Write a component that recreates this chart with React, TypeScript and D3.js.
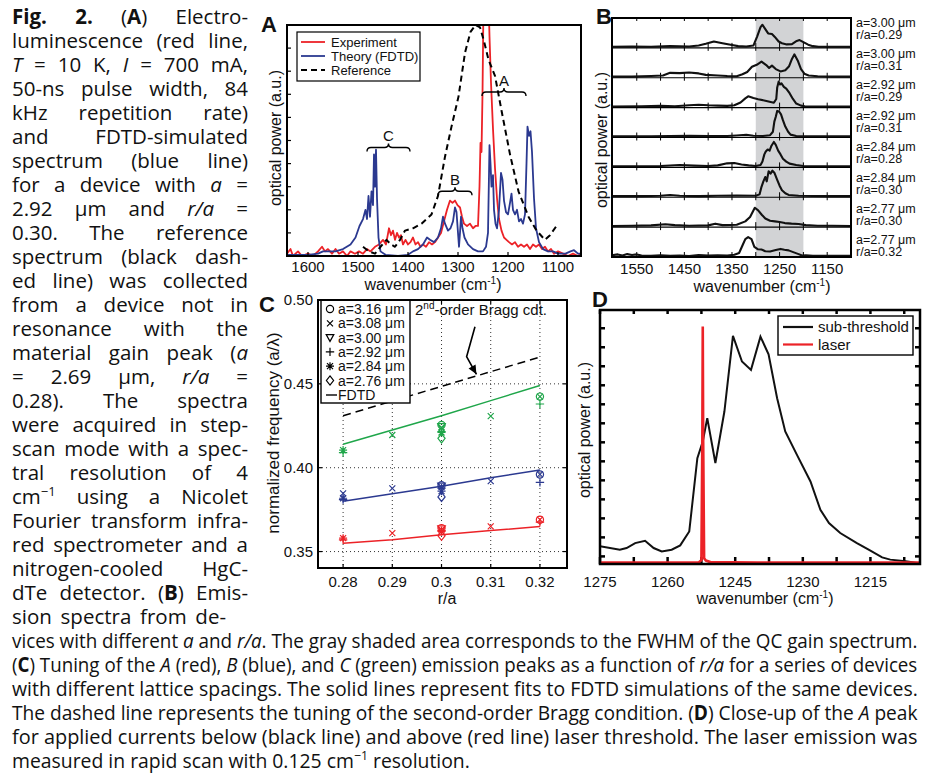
import React, { useEffect, useRef } from "react";
import * as d3 from "d3";

type Pt = [number, number];

const FONT = "'Liberation Sans', Arial, Helvetica, sans-serif";
const CAP_FONT = "'Open Sans', Lato, sans-serif";
const CAP_SIZE = 20.5;
const RED = "#ec2227";
const BLUE = "#2b3990";
const GREEN = "#1fa64a";

// ---------- A: electroluminescence (red), FDTD (blue), reference (dashed) ----------
const expA: Pt[] = [
  [1642, 0.01], [1635, 0.03], [1630, 0.0], [1620, 0.02], [1612, 0.0], [1600, 0.01], [1590, 0.0], [1580, 0.02],
  [1572, 0.04], [1566, 0.02], [1560, 0.03], [1552, 0.01], [1545, 0.03], [1538, 0.01], [1530, 0.02], [1522, 0.0],
  [1515, 0.02], [1506, 0.01], [1498, 0.02], [1490, 0.01], [1482, 0.03], [1475, 0.02], [1466, 0.04], [1458, 0.05],
  [1450, 0.07], [1444, 0.05], [1438, 0.12], [1434, 0.09], [1430, 0.11], [1426, 0.07], [1422, 0.1], [1418, 0.08],
  [1414, 0.09], [1410, 0.05], [1405, 0.07], [1400, 0.05], [1395, 0.06], [1390, 0.08], [1385, 0.05], [1380, 0.06],
  [1375, 0.04], [1370, 0.05], [1364, 0.04], [1358, 0.06], [1352, 0.05], [1346, 0.06], [1340, 0.08], [1334, 0.1],
  [1328, 0.15], [1322, 0.2], [1316, 0.24], [1311, 0.23], [1306, 0.24], [1301, 0.22], [1296, 0.21], [1292, 0.17],
  [1288, 0.14], [1282, 0.13], [1276, 0.14], [1270, 0.12], [1265, 0.13], [1260, 0.13], [1257, 0.3], [1255, 0.49],
  [1253, 0.45], [1251, 0.7], [1249, 1.1], [1246, 1.25], [1243, 1.3], [1240, 1.2], [1237, 0.95], [1234, 0.75],
  [1230, 0.55], [1226, 0.38], [1222, 0.25], [1218, 0.16], [1213, 0.11], [1208, 0.08], [1203, 0.07], [1198, 0.06],
  [1192, 0.05], [1186, 0.06], [1180, 0.04], [1174, 0.05], [1168, 0.04], [1162, 0.05], [1156, 0.03], [1150, 0.05],
  [1144, 0.04], [1138, 0.05], [1132, 0.03], [1126, 0.04], [1120, 0.02], [1114, 0.03], [1108, 0.01], [1100, 0.02],
  [1090, 0.01], [1080, 0.0], [1070, 0.01], [1060, 0.0], [1054, 0.01],
];
const fdtdA: Pt[] = [
  [1642, 0.005], [1600, 0.005], [1580, 0.01], [1570, 0.02], [1560, 0.02], [1545, 0.02], [1530, 0.03], [1515, 0.05],
  [1505, 0.08], [1497, 0.13], [1490, 0.16], [1485, 0.2], [1482, 0.16], [1479, 0.26], [1476, 0.17], [1473, 0.28],
  [1470, 0.22], [1468, 0.44], [1466, 0.3], [1464, 0.46], [1462, 0.25], [1459, 0.08], [1455, 0.02], [1445, 0.005],
  [1420, 0.0], [1400, 0.005], [1390, 0.02], [1380, 0.03], [1370, 0.05], [1362, 0.08], [1356, 0.07], [1348, 0.06],
  [1340, 0.08], [1334, 0.12], [1330, 0.17], [1326, 0.14], [1320, 0.11], [1315, 0.12], [1310, 0.15], [1306, 0.21],
  [1303, 0.19], [1300, 0.1], [1298, 0.04], [1296, 0.1], [1294, 0.17], [1291, 0.12], [1287, 0.08], [1280, 0.05],
  [1270, 0.03], [1260, 0.02], [1250, 0.02], [1244, 0.04], [1240, 0.1], [1237, 0.48], [1235, 0.4], [1233, 0.3],
  [1230, 0.35], [1228, 0.2], [1225, 0.14], [1222, 0.12], [1218, 0.2], [1214, 0.36], [1211, 0.33], [1208, 0.24],
  [1204, 0.19], [1200, 0.18], [1196, 0.23], [1193, 0.27], [1190, 0.2], [1186, 0.18], [1182, 0.2], [1178, 0.15],
  [1174, 0.16], [1170, 0.14], [1166, 0.18], [1163, 0.4], [1161, 0.56], [1158, 0.52], [1155, 0.54], [1152, 0.45],
  [1148, 0.25], [1144, 0.12], [1138, 0.06], [1130, 0.03], [1120, 0.02], [1110, 0.02], [1100, 0.01], [1085, 0.01],
  [1075, 0.02], [1068, 0.025], [1060, 0.01], [1054, 0.01],
];
const refA: Pt[] = [
  [1490, 0.04], [1478, 0.02], [1466, 0.01], [1455, 0.04], [1443, 0.07], [1434, 0.05], [1426, 0.04], [1416, 0.07],
  [1406, 0.11], [1390, 0.12], [1373, 0.14], [1353, 0.18], [1340, 0.26], [1326, 0.43], [1313, 0.56], [1299, 0.69],
  [1286, 0.88], [1275, 0.97], [1265, 1.0], [1256, 0.99], [1248, 0.93], [1239, 0.85], [1226, 0.78], [1213, 0.63],
  [1196, 0.44], [1179, 0.28], [1159, 0.17], [1143, 0.11], [1126, 0.07], [1116, 0.09], [1103, 0.13],
];
const legendA = ["Experiment", "Theory (FDTD)", "Reference"];
const bracePeaks = ["C", "B", "A"];
const braceFrom = [1482, 1340, 1252];
const braceTo = [1396, 1272, 1164];
const braceLevel = [0.47, 0.28, 0.71];
const ticksA = [1600, 1500, 1400, 1300, 1200, 1100];

// ---------- B: emission spectra of eight devices ----------
const rowsB: Pt[][] = [
  [[1602, 0.04], [1560, 0.05], [1520, 0.04], [1480, 0.06], [1440, 0.05], [1420, 0.08], [1405, 0.14], [1388, 0.22],
   [1370, 0.16], [1350, 0.1], [1337, 0.06], [1320, 0.05], [1305, 0.08], [1297, 0.4], [1290, 0.72], [1286, 0.8],
   [1280, 0.65], [1274, 0.5], [1266, 0.48], [1260, 0.38], [1252, 0.22], [1245, 0.16], [1235, 0.12], [1224, 0.13],
   [1214, 0.24], [1208, 0.27], [1200, 0.2], [1190, 0.11], [1180, 0.06], [1168, 0.04], [1140, 0.04], [1100, 0.04]],
  [[1602, 0.04], [1560, 0.04], [1520, 0.06], [1495, 0.08], [1480, 0.17], [1460, 0.16], [1440, 0.18], [1420, 0.15],
   [1405, 0.1], [1380, 0.08], [1360, 0.06], [1340, 0.05], [1328, 0.12], [1318, 0.2], [1308, 0.38], [1298, 0.45],
   [1288, 0.56], [1283, 0.5], [1278, 0.44], [1272, 0.34], [1266, 0.42], [1258, 0.3], [1248, 0.22], [1238, 0.26],
   [1230, 0.4], [1224, 0.65], [1219, 0.81], [1212, 0.6], [1205, 0.3], [1198, 0.14], [1189, 0.08], [1170, 0.05],
   [1140, 0.04], [1100, 0.04]],
  [[1602, 0.04], [1540, 0.05], [1500, 0.06], [1470, 0.05], [1440, 0.08], [1420, 0.1], [1400, 0.08], [1380, 0.07],
   [1360, 0.06], [1345, 0.08], [1332, 0.18], [1322, 0.32], [1316, 0.39], [1305, 0.33], [1295, 0.29], [1280, 0.24],
   [1262, 0.17], [1257, 0.3], [1255, 0.7], [1252, 0.9], [1249, 0.8], [1246, 0.84], [1241, 0.72], [1236, 0.66],
   [1229, 0.5], [1222, 0.3], [1215, 0.14], [1205, 0.07], [1197, 0.05], [1150, 0.04], [1100, 0.04]],
  [[1602, 0.04], [1520, 0.04], [1480, 0.05], [1440, 0.06], [1400, 0.05], [1360, 0.05], [1340, 0.07], [1320, 0.09],
   [1305, 0.06], [1285, 0.05], [1270, 0.08], [1264, 0.2], [1261, 0.55], [1258, 0.72], [1255, 0.92], [1251, 0.9],
   [1247, 0.8], [1243, 0.6], [1238, 0.38], [1232, 0.2], [1227, 0.1], [1215, 0.05], [1180, 0.04], [1100, 0.04]],
  [[1602, 0.04], [1540, 0.04], [1500, 0.05], [1460, 0.08], [1430, 0.06], [1400, 0.05], [1380, 0.07], [1360, 0.14],
   [1345, 0.15], [1330, 0.1], [1315, 0.07], [1300, 0.05], [1290, 0.08], [1286, 0.2], [1282, 0.45], [1279, 0.55],
   [1275, 0.62], [1271, 0.58], [1267, 0.75], [1262, 0.88], [1258, 0.78], [1253, 0.58], [1248, 0.45], [1243, 0.3],
   [1236, 0.2], [1229, 0.13], [1215, 0.08], [1200, 0.05], [1150, 0.04], [1100, 0.04]],
  [[1602, 0.04], [1540, 0.04], [1500, 0.05], [1480, 0.08], [1460, 0.05], [1420, 0.04], [1380, 0.05], [1340, 0.06],
   [1300, 0.05], [1292, 0.1], [1288, 0.36], [1284, 0.55], [1280, 0.7], [1277, 0.55], [1273, 0.9], [1269, 0.82],
   [1265, 0.92], [1261, 0.85], [1255, 0.6], [1250, 0.4], [1245, 0.24], [1238, 0.14], [1231, 0.08], [1210, 0.05],
   [1150, 0.04], [1100, 0.04]],
  [[1602, 0.04], [1560, 0.05], [1520, 0.06], [1490, 0.1], [1470, 0.07], [1440, 0.05], [1400, 0.06], [1385, 0.12],
   [1370, 0.07], [1340, 0.08], [1322, 0.2], [1312, 0.35], [1302, 0.67], [1295, 0.58], [1287, 0.42], [1280, 0.3],
   [1270, 0.22], [1260, 0.2], [1250, 0.18], [1239, 0.14], [1225, 0.12], [1210, 0.11], [1195, 0.07], [1170, 0.05],
   [1140, 0.05], [1100, 0.04]],
  [[1602, 0.06], [1590, 0.09], [1580, 0.05], [1570, 0.1], [1560, 0.07], [1550, 0.09], [1540, 0.05], [1520, 0.04],
   [1500, 0.06], [1480, 0.04], [1460, 0.05], [1440, 0.03], [1420, 0.07], [1400, 0.05], [1380, 0.06], [1360, 0.05],
   [1345, 0.08], [1335, 0.14], [1328, 0.4], [1322, 0.62], [1316, 0.69], [1309, 0.62], [1303, 0.35], [1296, 0.27],
   [1288, 0.26], [1280, 0.2], [1270, 0.19], [1258, 0.24], [1248, 0.28], [1240, 0.25], [1231, 0.23], [1220, 0.16],
   [1210, 0.1], [1203, 0.05], [1195, 0.06], [1180, 0.04], [1100, 0.04]],
];
const latticeB = ["3.00", "3.00", "2.92", "2.92", "2.84", "2.84", "2.77", "2.77"];
const radiusB = ["0.29", "0.31", "0.29", "0.31", "0.28", "0.30", "0.30", "0.32"];
const gainBand = [1300, 1200];
const ticksB = [1550, 1450, 1350, 1250, 1150];

// ---------- C: tuning of the A, B, C peaks ----------
const rOverA = [0.28, 0.29, 0.3, 0.31, 0.32];
const fdtdPeakA = [0.355, 0.357, 0.36, 0.3625, 0.365];
const fdtdPeakB = [0.38, 0.3845, 0.389, 0.394, 0.3986];
const fdtdPeakC = [0.414, 0.4225, 0.431, 0.44, 0.449];
const braggR = [0.28, 0.32];
const braggF = [0.431, 0.466];
// rows: [r/a, peak A, peak B, peak C]
const markCircle = [[0.3, 0.364, 0.3896, 0.4255], [0.32, 0.369, 0.396, 0.4424]];
const markCross = [[0.28, NaN, 0.3847, NaN], [0.29, 0.361, 0.3877, 0.4195], [0.3, 0.363, 0.3886, 0.424], [0.31, 0.365, 0.392, 0.4308], [0.32, 0.369, 0.396, 0.4424]];
const markTriangle = [[0.3, 0.3635, 0.389, 0.4245]];
const markPlus = [[0.28, 0.357, 0.381, 0.409], [0.3, 0.3625, 0.3878, 0.4215], [0.32, 0.3675, 0.3913, 0.438]];
const markStar = [[0.28, 0.358, 0.3818, 0.4105], [0.3, 0.362, 0.386, 0.421]];
const markDiamond = [[0.3, 0.3594, 0.3826, 0.4175]];
const legendC = ["3.16", "3.08", "3.00", "2.92", "2.84", "2.76"];
const ticksCx = [0.28, 0.29, 0.3, 0.31, 0.32];
const ticksCxLabels = ["0.28", "0.29", "0.3", "0.31", "0.32"];
const ticksCy = [0.35, 0.4, 0.45, 0.5];

// ---------- D: close-up of peak A ----------
const subThreshold: Pt[] = [
  [1275, 0.53], [1270.6, 0.35], [1269.1, 0.44], [1267.2, 0.7], [1265, 0.82], [1263.1, 0.44], [1261.3, 0.26],
  [1259.1, 0.35], [1257.2, 0.58], [1255.2, 1.31], [1253.4, 5.17], [1252.2, 6.04], [1251.2, 7.27], [1249.4, 4.91],
  [1247.4, 7.62], [1245.5, 11.6], [1243.5, 10.25], [1241.5, 9.81], [1239.4, 11.56], [1237.6, 10.63], [1235.7, 8.32],
  [1233.9, 6.57], [1231.3, 5.34], [1228.3, 3.94], [1226.1, 2.45], [1224.2, 1.75], [1221.7, 1.23], [1218, 0.7],
  [1215.4, 0.35], [1212.4, -0.05], [1210.6, -0.17], [1207.2, -0.26], [1204.6, -0.35],
];
const laserD: Pt[] = [
  [1275, -0.33], [1262, -0.33], [1253.2, -0.33], [1252.5, -0.2], [1252.3, 6.0], [1252.2, 12.09], [1252.1, 6.0],
  [1251.9, -0.1], [1251.5, -0.22], [1250.5, -0.3], [1240, -0.33], [1220, -0.33], [1204, -0.33],
];
const ticksD = [1275, 1260, 1245, 1230, 1215];
const legendD = ["sub-threshold", "laser"];

// ---------- caption ----------
const captionColumn = [
  "**Fig. 2.** (**A**) Electro-",
  "luminescence (red line,",
  "*T* = 10 K, *I* = 700 mA,",
  "50-ns pulse width, 84",
  "kHz repetition rate)",
  "and FDTD-simulated",
  "spectrum (blue line)",
  "for a device with *a* =",
  "2.92 μm and *r/a* =",
  "0.30. The reference",
  "spectrum (black dash-",
  "ed line) was collected",
  "from a device not in",
  "resonance with the",
  "material gain peak (*a*",
  "= 2.69 μm, *r/a* =",
  "0.28). The spectra",
  "were acquired in step-",
  "scan mode with a spec-",
  "tral resolution of 4",
  "cm^−1^ using a Nicolet",
  "Fourier transform infra-",
  "red spectrometer and a",
  "nitrogen-cooled HgC-",
  "dTe detector. (**B**) Emis-",
  "sion spectra from de-",
];
const captionWide = [
  "vices with different *a* and *r/a*. The gray shaded area corresponds to the FWHM of the QC gain spectrum.",
  "(**C**) Tuning of the *A* (red), *B* (blue), and *C* (green) emission peaks as a function of *r/a* for a series of devices",
  "with different lattice spacings. The solid lines represent fits to FDTD simulations of the same devices.",
  "The dashed line represents the tuning of the second-order Bragg condition. (**D**) Close-up of the *A* peak",
  "for applied currents below (black line) and above (red line) laser threshold. The laser emission was",
  "measured in rapid scan with 0.125 cm^−1^ resolution.",
];

type Part = { t: string; b?: boolean; i?: boolean; sup?: boolean };
function richParts(s: string): Part[] {
  const out: Part[] = [];
  const re = /\*\*(.+?)\*\*|\*(.+?)\*|\^(.+?)\^|([^*^]+)/g;
  let m: RegExpExecArray | null;
  while ((m = re.exec(s))) {
    if (m[1]) out.push({ t: m[1], b: true });
    else if (m[2]) out.push({ t: m[2], i: true });
    else if (m[3]) out.push({ t: m[3], sup: true });
    else out.push({ t: m[4] });
  }
  return out;
}

const RichLine = ({ s, x, y, width, squeeze }: { s: string; x: number; y: number; width: number; squeeze?: boolean }) => {
  const parts = richParts(s);
  return (
    <text x={0} y={0} transform={`translate(${x},${y})`} className={squeeze ? "squeeze" : "justify"}
      data-x={x} data-y={y} data-w={width} fontFamily={CAP_FONT} fontSize={CAP_SIZE} fill="#111">
      {parts.map((p, k) => {
        const prevSup = k > 0 && parts[k - 1].sup;
        return (
          <tspan key={k} fontWeight={p.b ? 700 : undefined} fontStyle={p.i ? "italic" : undefined}
            fontSize={p.sup ? 13 : undefined} dy={p.sup ? -8 : prevSup ? 8 : undefined}>
            {p.t}
          </tspan>
        );
      })}
    </text>
  );
};

const Caption = () => (
  <g>
    {captionColumn.map((s, i) => (
      <RichLine key={i} s={s} x={12} y={24 + 24 * i} width={i < captionColumn.length - 1 ? 236 : 214} />
    ))}
    {captionWide.map((s, i) => (
      <RichLine key={"w" + i} s={s} x={12} y={24 + 24 * (captionColumn.length + i)}
        width={i < captionWide.length - 1 ? 906 : 458} squeeze />
    ))}
  </g>
);

// column lines: spread the words to fill the measure; wide lines: condense the glyphs to fit
function fitCaption(svg: SVGSVGElement) {
  d3.select(svg).selectAll<SVGTextElement, unknown>("text.justify").each(function () {
    const target = Number(this.getAttribute("data-w"));
    this.setAttribute("word-spacing", "0");
    const natural = this.getComputedTextLength();
    const gaps = ((this.textContent || "").match(/ /g) || []).length;
    if (gaps > 0) this.setAttribute("word-spacing", String((target - natural) / gaps));
  });
  d3.select(svg).selectAll<SVGTextElement, unknown>("text.squeeze").each(function () {
    const target = Number(this.getAttribute("data-w"));
    const tx = this.getAttribute("data-x"), ty = this.getAttribute("data-y");
    const natural = this.getComputedTextLength();
    this.setAttribute("transform", `translate(${tx},${ty}) scale(${target / natural},1)`);
  });
}

// ---------- helpers ----------
type Box = { x0: number; x1: number; y0: number; y1: number };
type Sel = d3.Selection<SVGGElement, unknown, null, undefined>;

const frame = (g: Sel, b: Box, w: number) =>
  g.append("rect").attr("x", b.x0).attr("y", b.y0).attr("width", b.x1 - b.x0).attr("height", b.y1 - b.y0)
    .attr("fill", "none").attr("stroke", "#000").attr("stroke-width", w);

const tick = (g: Sel, x1: number, y1: number, x2: number, y2: number, w = 1.2) =>
  g.append("line").attr("x1", x1).attr("y1", y1).attr("x2", x2).attr("y2", y2).attr("stroke", "#000").attr("stroke-width", w);

const txt = (g: Sel, x: number, y: number, s: string, size: number, anchor = "middle") =>
  g.append("text").attr("x", x).attr("y", y).attr("text-anchor", anchor).attr("font-family", FONT)
    .attr("font-size", size).attr("fill", "#111").text(s);

const panelLetter = (g: Sel, x: number, y: number, s: string) =>
  txt(g, x, y, s, 22, "start").attr("font-weight", 700);

const wavenumberLabel = (g: Sel, x: number, y: number) => {
  const t = g.append("text").attr("x", x).attr("y", y).attr("text-anchor", "middle")
    .attr("font-family", FONT).attr("font-size", 16).attr("fill", "#111");
  t.append("tspan").text("wavenumber (cm");
  t.append("tspan").attr("dy", -6).attr("font-size", 10).text("-1");
  t.append("tspan").attr("dy", 6).text(")");
};

const yLabel = (g: Sel, x: number, y: number, s: string, size = 16) =>
  g.append("text").attr("transform", `translate(${x},${y}) rotate(-90)`).attr("text-anchor", "middle")
    .attr("font-family", FONT).attr("font-size", size).attr("fill", "#111").text(s);

// ---------- panel A ----------
function drawA(root: Sel) {
  const b: Box = { x0: 287, x1: 581, y0: 25, y1: 256 };
  const x = d3.scaleLinear().domain([1642, 1054]).range([b.x0, b.x1]);
  const y = d3.scaleLinear().domain([0, 1]).range([b.y1, b.y0]);
  const g = root.append("g");
  g.append("clipPath").attr("id", "clipA").append("rect")
    .attr("x", b.x0).attr("y", b.y0).attr("width", b.x1 - b.x0).attr("height", b.y1 - b.y0);
  const line = d3.line<Pt>().x(d => x(d[0])).y(d => y(d[1]));
  const plot = g.append("g").attr("clip-path", "url(#clipA)");
  const series = [
    { data: expA, color: RED, dash: null as string | null },
    { data: fdtdA, color: BLUE, dash: null },
    { data: refA, color: "#000", dash: "6,4" },
  ];
  series.forEach(s =>
    plot.append("path").datum(s.data).attr("d", line).attr("fill", "none").attr("stroke", s.color)
      .attr("stroke-width", s.dash ? 2 : 1.8).attr("stroke-dasharray", s.dash).attr("stroke-linejoin", "round"));

  y.ticks(10).forEach(t => tick(g, b.x0, y(t), b.x0 + 4, y(t)));
  ticksA.forEach(t => {
    tick(g, x(t), b.y1, x(t), b.y1 - 4);
    txt(g, x(t), 272, String(t), 15);
  });
  frame(g, b, 2);

  // peak braces
  bracePeaks.forEach((name, i) => {
    const x1 = x(braceFrom[i]), x2 = x(braceTo[i]), yb = y(braceLevel[i]), xm = (x1 + x2) / 2, h = 4;
    g.append("path").attr("fill", "none").attr("stroke", "#000").attr("stroke-width", 1.4)
      .attr("d", `M${x1},${yb + h} Q${x1},${yb} ${x1 + h},${yb} L${xm - h},${yb} Q${xm},${yb} ${xm},${yb - h} ` +
        `Q${xm},${yb} ${xm + h},${yb} L${x2 - h},${yb} Q${x2},${yb} ${x2},${yb + h}`);
    txt(g, xm, yb - 6, name, 15);
  });

  // legend
  const lg = g.append("g");
  lg.append("rect").attr("x", 297).attr("y", 32).attr("width", 123).attr("height", 49)
    .attr("fill", "#fff").attr("stroke", "#000").attr("stroke-width", 1.2);
  legendA.forEach((name, i) => {
    const yy = 42 + i * 14;
    lg.append("line").attr("x1", 301).attr("x2", 325).attr("y1", yy).attr("y2", yy)
      .attr("stroke", series[i].color).attr("stroke-width", 1.8).attr("stroke-dasharray", series[i].dash);
    txt(lg, 331, yy + 5, name, 13, "start");
  });

  wavenumberLabel(g, 433, 290);
  yLabel(g, 281, 138, "optical power (a.u.)");
  panelLetter(g, 261, 32, "A");
}

// ---------- panel B ----------
function drawB(root: Sel) {
  const b: Box = { x0: 612, x1: 851, y0: 18, y1: 257 };
  const x = d3.scaleLinear().domain([1602, 1100]).range([b.x0, b.x1]);
  const rowH = (b.y1 - b.y0) / rowsB.length;
  const g = root.append("g");
  g.append("rect").attr("x", x(gainBand[0])).attr("y", b.y0).attr("width", x(gainBand[1]) - x(gainBand[0]))
    .attr("height", b.y1 - b.y0).attr("fill", "#d2d3d5");

  rowsB.forEach((row, i) => {
    const top = b.y0 + i * rowH, bottom = top + rowH;
    const y = d3.scaleLinear().domain([0, 1]).range([bottom, top + 1]);
    d3.range(1550, 1100, -50).forEach(t => {
      tick(g, x(t), bottom, x(t), bottom - 5, 1);
      tick(g, x(t), top, x(t), top + 3, 1);
    });
    if (i > 0) tick(g, b.x0, top, b.x1, top, 1.1);
    const line = d3.line<Pt>().x(d => x(d[0])).y(d => y(d[1]));
    g.append("path").datum(row).attr("d", line).attr("fill", "none").attr("stroke", "#111")
      .attr("stroke-width", 2.1).attr("stroke-linejoin", "round");
    const ly = 22 + i * 31;
    txt(g, 856, ly + 4.5, `a=${latticeB[i]} μm`, 12.5, "start");
    txt(g, 856, ly + 16.5, `r/a=${radiusB[i]}`, 12.5, "start");
  });
  frame(g, b, 2);
  ticksB.forEach(t => txt(g, x(t), 274, String(t), 15));
  wavenumberLabel(g, 762, 292);
  yLabel(g, 607, 140, "optical power (a.u.)");
  panelLetter(g, 596, 24, "B");
}

// ---------- panel C ----------
type MarkFn = (g: Sel, cx: number, cy: number, color: string) => void;
const pathMark = (d: string): MarkFn => (g, cx, cy, color) =>
  g.append("path").attr("transform", `translate(${cx},${cy})`).attr("d", d).attr("fill", "none")
    .attr("stroke", color).attr("stroke-width", 1.2);
const markShapes: MarkFn[] = [
  (g, cx, cy, color) => g.append("circle").attr("cx", cx).attr("cy", cy).attr("r", 3.6).attr("fill", "none")
    .attr("stroke", color).attr("stroke-width", 1.2),
  pathMark("M-3,-3L3,3M-3,3L3,-3"),
  pathMark("M-3.8,-3L3.8,-3L0,3.8Z"),
  pathMark("M-4.2,0H4.2M0,-4.2V4.2"),
  pathMark("M-4,0H4M0,-4V4M-3,-3L3,3M-3,3L3,-3"),
  pathMark("M0,-4.6L3.6,0L0,4.6L-3.6,0Z"),
];

function drawC(root: Sel) {
  const b: Box = { x0: 318, x1: 567, y0: 300, y1: 568 };
  const x = d3.scaleLinear().domain([0.2749, 0.3255]).range([b.x0, b.x1]);
  const y = d3.scaleLinear().domain([0.3402, 0.5]).range([b.y1, b.y0]);
  const g = root.append("g");

  ticksCx.forEach((t, i) => {
    g.append("line").attr("x1", x(t)).attr("x2", x(t)).attr("y1", b.y0).attr("y2", b.y1)
      .attr("stroke", "#333").attr("stroke-dasharray", "1,3");
    tick(g, x(t), b.y1, x(t), b.y1 - 4); tick(g, x(t), b.y0, x(t), b.y0 + 4);
    txt(g, x(t), 587, ticksCxLabels[i], 15);
  });
  ticksCy.forEach(t => {
    g.append("line").attr("x1", b.x0).attr("x2", b.x1).attr("y1", y(t)).attr("y2", y(t))
      .attr("stroke", "#333").attr("stroke-dasharray", "1,3");
    tick(g, b.x0, y(t), b.x0 + 4, y(t)); tick(g, b.x1, y(t), b.x1 - 4, y(t));
    txt(g, 313, y(t) + 5, t.toFixed(2), 15, "end");
  });

  const lineOf = (vals: number[]) =>
    d3.line<number>().x((_, i) => x(rOverA[i])).y(v => y(v))(vals) as string;
  [[fdtdPeakA, RED], [fdtdPeakB, BLUE], [fdtdPeakC, GREEN]].forEach(([vals, color]) =>
    g.append("path").attr("d", lineOf(vals as number[])).attr("fill", "none").attr("stroke", color as string)
      .attr("stroke-width", 1.5));
  g.append("path").attr("d", d3.line<number>().x((_, i) => x(braggR[i])).y(v => y(v))(braggF) as string)
    .attr("fill", "none").attr("stroke", "#000").attr("stroke-width", 1.5).attr("stroke-dasharray", "8,5");

  const marks = [markCircle, markCross, markTriangle, markPlus, markStar, markDiamond];
  const peakColors = [RED, BLUE, GREEN];
  marks.forEach((rows, k) => rows.forEach(r => peakColors.forEach((c, p) => {
    if (!isNaN(r[p + 1])) markShapes[k](g, x(r[0]), y(r[p + 1]), c);
  })));

  // Bragg annotation arrow
  const tip: Pt = [x(0.3071), y(0.4557)];
  const pts: Pt[] = [[x(0.3068), y(0.4841)], [x(0.3051), y(0.4662)], tip];
  g.append("path").attr("d", d3.line<Pt>()(pts) as string).attr("fill", "none").attr("stroke", "#000").attr("stroke-width", 1.6);
  const ang = Math.atan2(tip[1] - pts[1][1], tip[0] - pts[1][0]);
  const hl = 9, hw = 4;
  const bx = tip[0] - hl * Math.cos(ang), by = tip[1] - hl * Math.sin(ang);
  g.append("path").attr("fill", "#000")
    .attr("d", `M${tip[0]},${tip[1]}L${bx - hw * Math.sin(ang)},${by + hw * Math.cos(ang)}L${bx + hw * Math.sin(ang)},${by - hw * Math.cos(ang)}Z`);
  const bt = g.append("text").attr("x", 415).attr("y", 315).attr("font-family", FONT).attr("font-size", 15).attr("fill", "#111");
  bt.append("tspan").text("2");
  bt.append("tspan").attr("dy", -6).attr("font-size", 10).text("nd");
  bt.append("tspan").attr("dy", 6).text("-order Bragg cdt.");

  // legend
  const lg = g.append("g");
  lg.append("rect").attr("x", 321).attr("y", 300).attr("width", 89).attr("height", 103)
    .attr("fill", "#fff").attr("stroke", "#000").attr("stroke-width", 1.4);
  legendC.forEach((a, i) => {
    const yy = 309 + i * 14.3;
    markShapes[i](lg, 330, yy, "#000");
    txt(lg, 338, yy + 5, `a=${a} μm`, 14, "start");
  });
  tick(lg, 326, 395, 337, 395, 1.4);
  txt(lg, 338, 400, "FDTD", 14, "start");

  frame(g, b, 2);
  txt(g, 447, 604, "r/a", 16);
  yLabel(g, 279, 433, "normalized frequency (a/λ)", 17);
  panelLetter(g, 259, 312, "C");
}

// ---------- panel D ----------
function drawD(root: Sel) {
  const b: Box = { x0: 600, x1: 920, y0: 310, y1: 564 };
  const x = d3.scaleLinear().domain([1275, 1204]).range([b.x0, b.x1]);
  const y = d3.scaleLinear().domain([-0.4, 12.96]).range([b.y1, b.y0]);
  const g = root.append("g");
  g.append("clipPath").attr("id", "clipD").append("rect")
    .attr("x", b.x0).attr("y", b.y0).attr("width", b.x1 - b.x0).attr("height", b.y1 - b.y0);

  d3.range(1275, 1204, -7.5).forEach(t => {
    tick(g, x(t), b.y1, x(t), b.y1 - 7, 2.5);
    tick(g, x(t), b.y0, x(t), b.y0 + 4, 2.5);
  });
  d3.range(0, 13).forEach(t => {
    tick(g, b.x0, y(t), b.x0 + 5, y(t), 2.5);
    tick(g, b.x1, y(t), b.x1 - 5, y(t), 2.5);
  });
  ticksD.forEach(t => txt(g, x(t), 587, String(t), 15));

  const line = d3.line<Pt>().x(d => x(d[0])).y(d => y(d[1]));
  const plot = g.append("g").attr("clip-path", "url(#clipD)");
  plot.append("path").datum(subThreshold).attr("d", line).attr("fill", "none").attr("stroke", "#111").attr("stroke-width", 2);
  plot.append("path").datum(laserD).attr("d", line).attr("fill", "none").attr("stroke", RED).attr("stroke-width", 2.6);
  frame(g, b, 2.5);

  const lg = g.append("g");
  lg.append("rect").attr("x", 778).attr("y", 316).attr("width", 135).attr("height", 39)
    .attr("fill", "#fff").attr("stroke", "#000").attr("stroke-width", 1.4);
  legendD.forEach((name, i) => {
    const yy = 327 + i * 17.5;
    lg.append("line").attr("x1", 783).attr("x2", 813).attr("y1", yy).attr("y2", yy)
      .attr("stroke", i === 0 ? "#111" : RED).attr("stroke-width", 2.2);
    txt(lg, 818, yy + 5, name, 15, "start");
  });

  wavenumberLabel(g, 765, 604);
  yLabel(g, 590, 430, "optical power (a.u.)");
  panelLetter(g, 592, 307, "D");
}

export default function App() {
  const ref = useRef<SVGSVGElement>(null);
  useEffect(() => {
    if (!ref.current) return;
    const svg = d3.select(ref.current);
    svg.selectAll("g.panels").remove();
    const root = svg.append("g").attr("class", "panels") as unknown as Sel;
    drawA(root);
    drawB(root);
    drawC(root);
    drawD(root);
    fitCaption(ref.current);
  }, []);
  return (
    <svg ref={ref} width={927} height={774}
      style={{ position: "absolute", left: 0, top: 0, background: "#fff", display: "block" }}>
      <Caption />
    </svg>
  );
}
